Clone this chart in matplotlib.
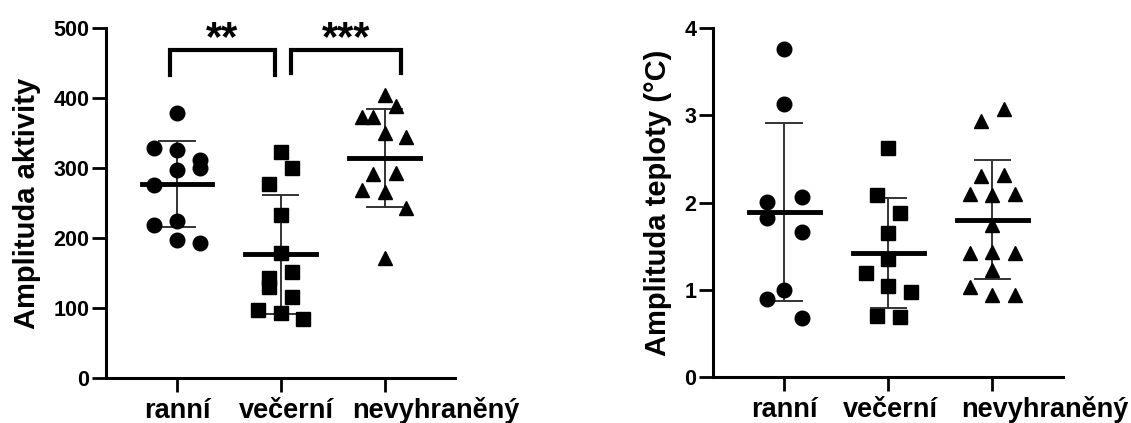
import numpy as np
import matplotlib
matplotlib.use('Agg')
import matplotlib.pyplot as plt

plt.rcParams['font.family'] = ['Liberation Sans', 'DejaVu Sans']
plt.rcParams['font.weight'] = 'bold'

groups = ['ranní', 'večerní', 'nevyhraněný']

# amplituda aktivity
akt_ranni = [379, 329, 326, 311, 300, 297, 276, 224, 219, 197, 193]
akt_vecerni = [323, 300, 277, 233, 178, 151, 143, 130, 116, 97, 93, 84]
akt_nevyhr = [404, 389, 373, 373, 350, 344, 293, 291, 269, 266, 243, 171]

# amplituda teploty (°C)
tep_ranni = [3.76, 3.13, 2.06, 2.01, 1.82, 1.66, 1.00, 0.89, 0.68]
tep_vecerni = [2.63, 2.09, 1.88, 1.65, 1.35, 1.19, 1.04, 0.98, 0.70, 0.69]
tep_nevyhr = [3.07, 2.93, 2.32, 2.30, 2.10, 2.09, 2.10, 1.74, 1.42, 1.43, 1.42,
              1.23, 1.03, 0.94, 0.94]

# horizontal scatter of the points (as drawn in the original)
akt_dx = [
    [0, -0.22, 0, 0.22, 0.22, 0, -0.22, 0, -0.22, 0, 0.22],
    [0, 0.11, -0.11, 0, 0, 0.11, -0.11, -0.11, 0.11, -0.22, 0, 0.21],
    [0, 0.11, -0.22, -0.11, 0, 0.21, 0.11, -0.11, -0.22, 0, 0.21, 0],
]
tep_dx = [
    [0, 0, 0.17, -0.16, -0.16, 0.17, 0, -0.16, 0.17],
    [0, -0.11, 0.11, 0, 0, -0.21, 0, 0.22, -0.11, 0.11],
    [0.11, -0.11, 0.11, -0.11, -0.22, 0, 0.22, 0, -0.22, 0, 0.22, 0, -0.22, 0, 0.22],
]

markers = ['o', 's', '^']

fig = plt.figure(figsize=(11.31, 4.23), dpi=100)
ax1 = fig.add_axes([0.0937, 0.1064, 0.3086, 0.8274])
ax2 = fig.add_axes([0.6304, 0.1087, 0.3095, 0.8251])


def draw_panel(ax, data, dx, ymax, yticks, ylabel, label_x):
    for i, (vals, offs) in enumerate(zip(data, dx)):
        vals = np.array(vals)
        ax.plot(i + np.array(offs), vals, linestyle='none', marker=markers[i],
                markersize=10.5, color='black', zorder=3)
        m = vals.mean()
        sd = vals.std(ddof=1)
        ax.plot([i - 0.34, i + 0.34], [m, m], color='black', lw=3.5, zorder=4)
        ax.plot([i, i], [m - sd, m + sd], color='#333333', lw=1.4, zorder=2)
        ax.plot([i - 0.17, i + 0.17], [m + sd, m + sd], color='#333333', lw=1.4, zorder=2)
        ax.plot([i - 0.17, i + 0.17], [m - sd, m - sd], color='#333333', lw=1.4, zorder=2)
    ax.set_xlim(-0.683, 2.678)
    ax.set_ylim(0, ymax)
    ax.set_yticks(yticks)
    ax.set_xticks(range(len(groups)))
    ax.set_xticklabels([''] * len(groups))
    for s in ['top', 'right']:
        ax.spines[s].set_visible(False)
    for s in ['left', 'bottom']:
        ax.spines[s].set_linewidth(2.2)
    ax.tick_params(axis='both', width=2, length=10, labelsize=15.5, pad=2)
    for lab in ax.get_yticklabels():
        lab.set_fontweight('bold')
    ax.set_ylabel(ylabel, fontsize=21, fontweight='bold', labelpad=9)
    for name, x in zip(groups, label_x):
        ax.text(x, -0.094, name, transform=ax.get_xaxis_transform(),
                ha='center', va='center', fontsize=19.5, fontweight='bold')


draw_panel(ax1, [akt_ranni, akt_vecerni, akt_nevyhr], akt_dx, 500,
           [0, 100, 200, 300, 400, 500], 'Amplituda aktivity', [0, 1.05, 2.49])
draw_panel(ax2, [tep_ranni, tep_vecerni, tep_nevyhr], tep_dx, 4,
           [0, 1, 2, 3, 4], 'Amplituda teploty (°C)', [0, 1.02, 2.5])

# significance brackets
brackets = [(-0.07, 0.94, 433, 469, '**'), (1.1, 2.16, 436, 469, '***')]
for x0, x1, ylo, yhi, star in brackets:
    ax1.plot([x0, x0, x1, x1], [ylo, yhi, yhi, ylo], color='black', lw=3,
             clip_on=False, solid_joinstyle='miter')
    ax1.text((x0 + x1) / 2, 484, star, ha='center', va='center', fontsize=30,
             fontweight='bold', clip_on=False)

fig.savefig('out.png', dpi=100)
